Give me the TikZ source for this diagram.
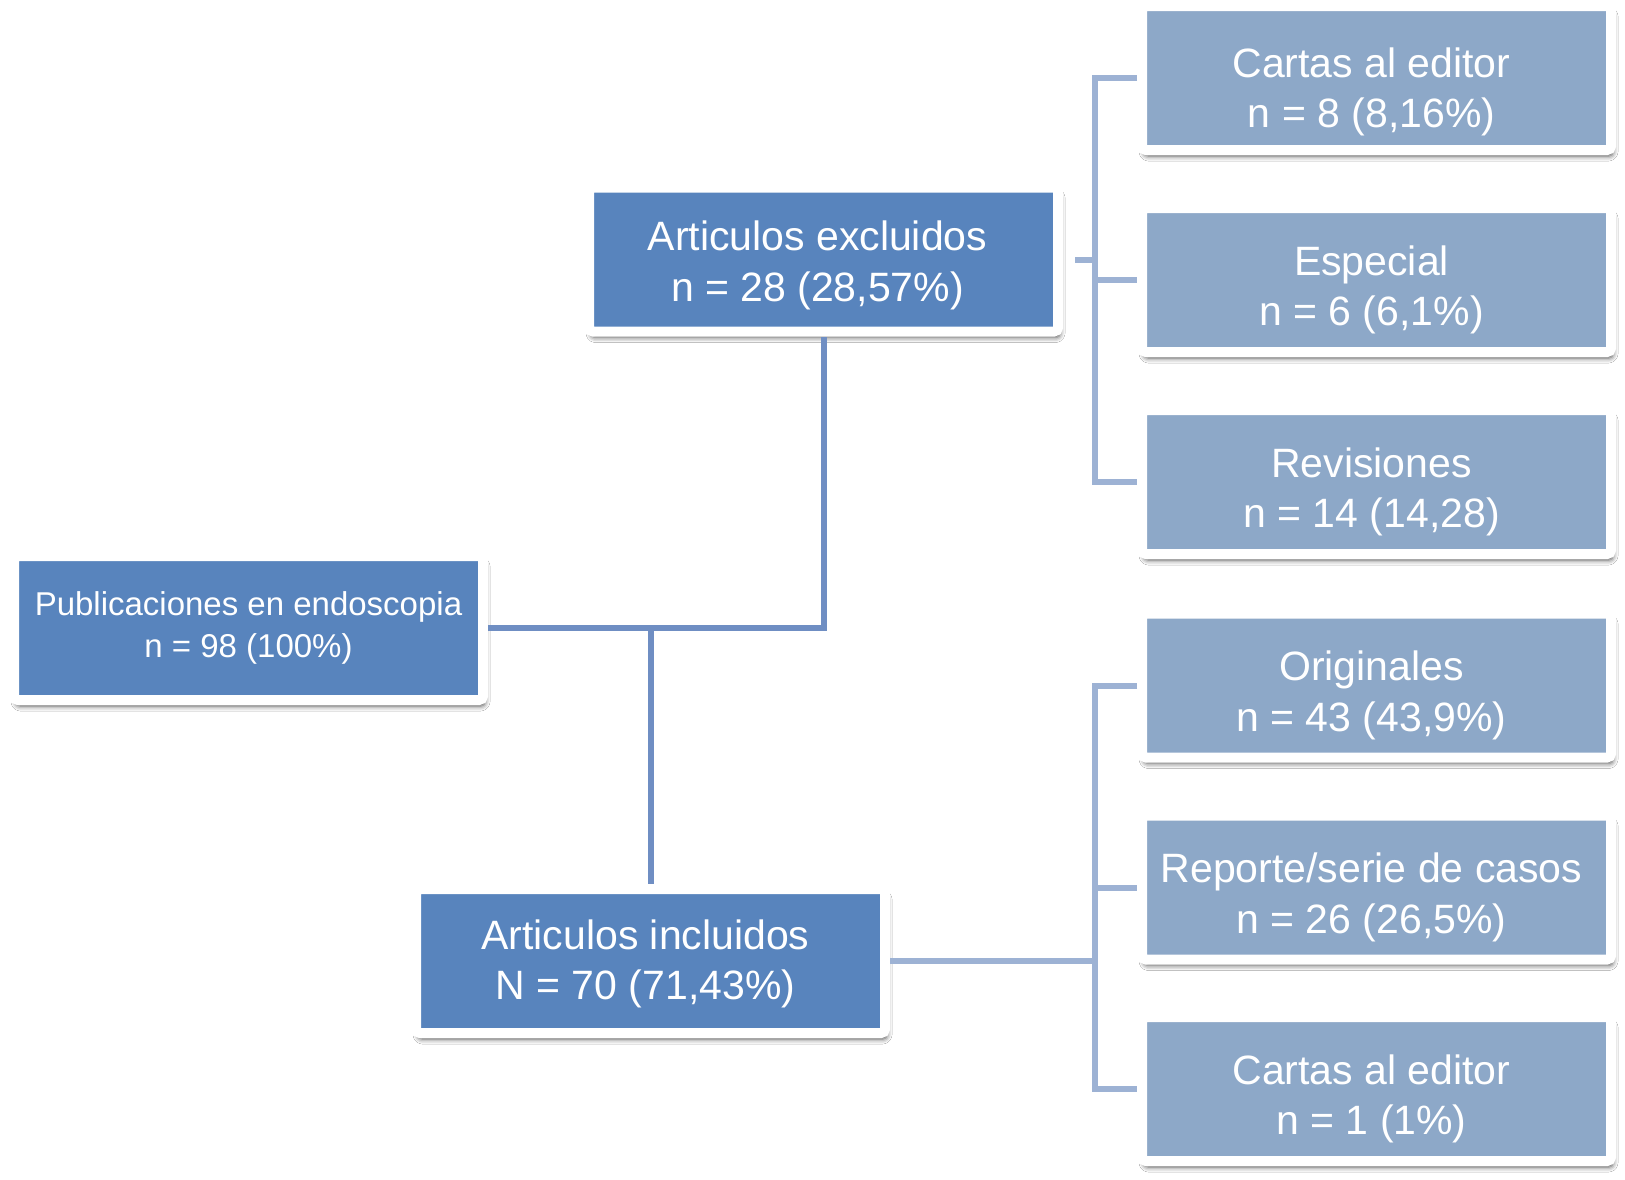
\documentclass[tikz,border=0pt]{standalone}
\usepackage{fontspec}
\setmainfont{Liberation Sans}
\usetikzlibrary{shadows.blur}
\definecolor{darkbox}{HTML}{5884BD}
\definecolor{lightbox}{HTML}{8DA8C8}
\definecolor{darkline}{HTML}{6F8EC3}
\definecolor{lightline}{HTML}{9DB2D4}
\begin{document}
\begin{tikzpicture}[x=1pt,y=-1pt,
  box/.style={draw=white, line width=10pt, rounded corners=4pt, minimum width=469pt, minimum height=144pt, inner sep=0pt, blur shadow={shadow xshift=2pt, shadow yshift=-6pt, shadow blur radius=5pt, shadow opacity=70}},
  dbox/.style={box, fill=darkbox},
  lbox/.style={box, fill=lightbox},
  boxtext/.style={inner sep=0pt, align=center, text=white, font=\fontsize{41}{50.5}\selectfont},
  dline/.style={draw=darkline, line width=6pt},
  lline/.style={draw=lightline, line width=6pt}]
\useasboundingbox[fill=white] (0,0) rectangle (1625,1179);

\node[dbox] (pub) at (248.5,628) {};
\node[dbox] (exc) at (823.5,259.5) {};
\node[dbox] (inc) at (650.5,961) {};

\node[lbox] (c1) at (1376.5,78) {};
\node[lbox] (esp) at (1376.5,280) {};
\node[lbox] (rev) at (1376.5,482) {};
\node[lbox] (ori) at (1376.5,685.5) {};
\node[lbox] (rep) at (1376.5,887.5) {};
\node[lbox] (c2) at (1376.5,1089) {};

\node[boxtext, font=\fontsize{33}{41.5}\selectfont] (pubt) at (pub.center) {Publicaciones en endoscopia\\n = 98 (100\%)};
\node[boxtext] (exct) at ([xshift=-6pt,yshift=-6pt]exc.center) {Articulos excluidos\\n = 28 (28,57\%)};
\node[boxtext] (inct) at ([xshift=-5pt,yshift=-3pt]inc.center) {Articulos incluidos\\N = 70 (71,43\%)};
\node[boxtext] (c1t) at ([xshift=-5pt,yshift=-14pt]c1.center) {Cartas al editor\\n = 8 (8,16\%)};
\node[boxtext] (espt) at ([xshift=-5pt,yshift=-10pt]esp.center) {Especial\\n = 6 (6,1\%)};
\node[boxtext] (revt) at ([xshift=-5pt,yshift=-10pt]rev.center) {Revisiones\\n = 14 (14,28)};
\node[boxtext] (orit) at ([xshift=-5pt,yshift=-10pt]ori.center) {Originales\\n = 43 (43,9\%)};
\node[boxtext] (rept) at ([xshift=-5pt,yshift=-10pt]rep.center) {Reporte/serie de casos\\n = 26 (26,5\%)};
\node[boxtext] (c2t) at ([xshift=-5pt,yshift=-10pt]c2.center) {Cartas al editor\\n = 1 (1\%)};

% left connectors
\draw[dline] (pub.east) -| (exc.south);
\coordinate (j) at (pub.east -| inc.north);
\draw[dline] (j) -- (inc.north);

% excluded branches
\coordinate (t1) at (1095,259.5);
\draw[lline, shorten <=12pt] (exc.east) -- (t1);
\draw[lline] (c1.west) -| (t1 |- rev.west) -- (rev.west);
\draw[lline] (t1 |- esp.west) -- (esp.west);

% included branches
\coordinate (t2) at (1095,961);
\draw[lline] (inc.east) -- (t2);
\draw[lline] (ori.west) -| (t2 |- c2.west) -- (c2.west);
\draw[lline] (t2 |- rep.west) -- (rep.west);
\end{tikzpicture}
\end{document}
